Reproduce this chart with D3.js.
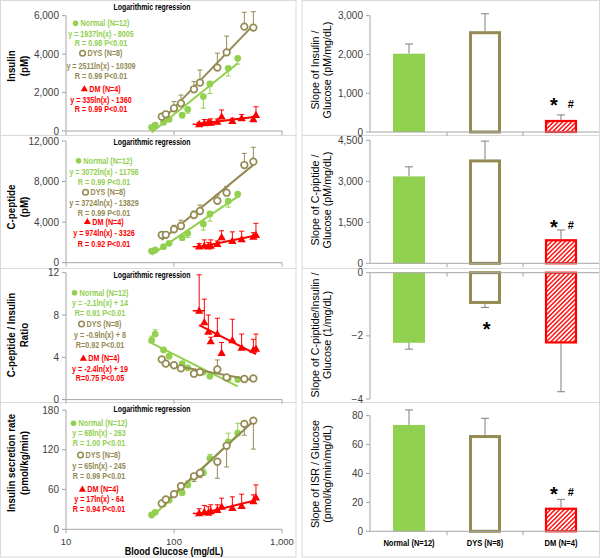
<!DOCTYPE html>
<html><head><meta charset="utf-8">
<script src="https://cdn.jsdelivr.net/npm/d3@7"></script>
<style>body{margin:0;background:#fff}</style>
</head><body><svg id="c" width="600" height="558"></svg>
<script>
// ---------- DATA ----------
const glucoseNormal = [62, 67, 80, 90, 119, 134, 187, 215, 318, 389];
const glucoseDYS    = [77, 84, 100, 116, 153, 174, 252, 307, 448, 543];
const glucoseDM     = [171, 191, 208, 219, 252, 276, 347, 423, 543, 574];
const glucoseDMErr  = [22, 0, 0, 0, 0, 0, 0, 0, 0, 0];

const insulinNormal    = [190, 310, 450, 610, 830, 1130, 1790, 2450, 3260, 3780];
const insulinNormalErr = [40, 50, 80, 100, 150, 200, 600, 500, 400, 300];
const insulinDYS       = [745, 870, 1180, 1440, 2170, 2515, 3300, 4090, 5430, 5380];
const insulinDYSErr    = [100, 150, 350, 430, 400, 660, 750, 850, 750, 830];
const insulinDM        = [350, 400, 430, 430, 470, 745, 520, 660, 610, 830];
const insulinDMErr     = [100, 200, 150, 200, 150, 350, 150, 200, 150, 430];

const cpepNormal    = [1150, 1250, 1580, 1910, 2470, 2900, 3820, 4800, 6080, 6770];
const cpepNormalErr = [60, 80, 100, 150, 250, 400, 600, 700, 600, 300];
const cpepDYS       = [2730, 2750, 3290, 3620, 4700, 5100, 6110, 6900, 9630, 9960];
const cpepDYSErr    = [200, 300, 400, 570, 400, 590, 560, 600, 1150, 1420];
const cpepDM        = [1580, 1650, 1600, 1650, 1840, 2500, 2140, 2310, 2560, 2730];
const cpepDMErr     = [300, 600, 400, 600, 300, 650, 900, 800, 400, 1150];

const ratioNormal    = [5.6, 6.2, 4.7, 4.1, 3.4, 3.0, 2.6, 2.2, 2.0, 1.9];
const ratioNormalErr = [0.4, 0.4, 0.2, 0.2, 0.2, 0.2, 0.2, 0.2, 0.2, 0.2];
const ratioDYS       = [3.8, 3.4, 3.25, 2.95, 2.45, 2.6, 2.85, 2.1, 1.95, 2.0];
const ratioDYSErr    = [0.2, 0.2, 0.2, 0.2, 0.2, 0.2, 0.9, 0.2, 0.2, 0.2];
const ratioDM        = [8.4, 7.3, 6.4, 5.5, 6.2, 4.4, 5.6, 4.9, 4.7, 4.8];
const ratioDMErr     = [3.4, 2.2, 1.6, 0.4, 1.5, 1.0, 2.0, 1.3, 1.0, 1.4];

const isrNormal    = [21.6, 25.6, 38, 44, 55, 67, 85, 107, 132, 145];
const isrNormalErr = [2, 2, 3, 4, 5, 6, 6, 6, 13, 15];
const isrDYS       = [39, 45, 53, 65, 80, 85, 102, 126, 159, 164];
const isrDYSErr    = [3, 3, 4, 5, 8, 7, 25, 32, 17, 43];
const isrDM        = [24, 26, 25, 27, 29, 34, 32, 35, 42, 48];
const isrDMErr     = [7, 10, 9, 10, 8, 13, 17, 18, 10, 19];

const xTicks = [10, 100, 1000];
const xTickLabels = ["10", "100", "1,000"];

const categories = ["Normal (N=12)", "DYS (N=8)", "DM (N=4)"];
const slopeInsulin    = [2020, 2600, 310];
const slopeInsulinErr = [250, 450, 130];
const slopeCpep       = [3180, 3800, 880];
const slopeCpepErr    = [350, 670, 340];
const slopeRatio      = [-2.22, -0.99, -2.24];
const slopeRatioErr   = [0.2, 0.11, 1.53];
const slopeISR        = [73.6, 66.6, 16.3];
const slopeISRErr     = [10.4, 11.6, 5.8];

// ---------- STYLE / LAYOUT ----------
const COL = {N: "#92d050", D: "#948a54", M: "#ff0000"};
const FONT = '"Liberation Sans", Arial, sans-serif';
const AXIS = "#a6a6a6";
const TICKTXT = "#404040";
const svg = d3.select("#c");

function label(g, x, y, s, o = {}) {
  return g.append("text")
    .attr("dy", "0.35em")
    .attr("font-family", FONT)
    .attr("font-size", o.size || 10)
    .attr("font-weight", o.bold ? "bold" : "normal")
    .attr("fill", o.fill || "#000")
    .attr("text-anchor", o.anchor || "middle")
    .attr("transform", `translate(${x},${y}) rotate(${o.rot || 0}) scale(${o.sx || 1},1)`)
    .text(s);
}

// hatch pattern
const defs = svg.append("defs");
const pat = defs.append("pattern").attr("id", "hatch").attr("patternUnits", "userSpaceOnUse")
  .attr("width", 3.2).attr("height", 3.2).attr("patternTransform", "rotate(45)");
pat.append("rect").attr("width", 3.2).attr("height", 3.2).attr("fill", "#fff");
pat.append("line").attr("x1", 0.8).attr("y1", 0).attr("x2", 0.8).attr("y2", 3.2)
  .attr("stroke", COL.M).attr("stroke-width", 1.4);

// frames
const rows = [1, 135, 268, 402, 557];
[[0.5, 296], [302, 599.5]].forEach(([x0, x1]) => {
  svg.append("rect").attr("x", x0).attr("y", 0.5).attr("width", x1 - x0).attr("height", 556.5)
    .attr("fill", "none").attr("stroke", "#d9d9d9");
  rows.slice(1, 4).forEach(r => svg.append("line").attr("x1", x0).attr("x2", x1)
    .attr("y1", r + 0.5).attr("y2", r + 0.5).attr("stroke", "#d9d9d9"));
});

// ---------- LEFT PANELS ----------
const x = d3.scaleLog().domain([10, 1000]).range([66, 282]);

const leftPanels = [
  {range: [131, 15.7], dom: [0, 6000], ticks: [0, 2000, 4000, 6000], fmt: d3.format(","),
   titleY: 7, ttl: ["Insulin", "(pM)"], ttlY: 66,
   N: [insulinNormal, insulinNormalErr, -1], D: [insulinDYS, insulinDYSErr, 1], M: [insulinDM, insulinDMErr, 1],
   cx: 101, ly: [23.3, 33.7, 43.3, 53.3, 65.7, 75.7, 89, 99.7, 108.7],
   text: ["Normal (N=12)", "y = 1937ln(x) - 8005", "R = 0.98  P<0.01",
          "DYS (N=8)", "y = 2511ln(x) - 10309", "R = 0.99  P<0.01",
          "DM (N=4)", "y = 335ln(x) - 1360", "R = 0.99  P<0.01"]},
  {range: [262.7, 141], dom: [0, 12000], ticks: [0, 4000, 8000, 12000], fmt: d3.format(","),
   titleY: 142, ttl: ["C-peptide", "(pM)"], ttlY: 207,
   N: [cpepNormal, cpepNormalErr, -1], D: [cpepDYS, cpepDYSErr, 1], M: [cpepDM, cpepDMErr, 1],
   cx: 104, ly: [160.7, 171.7, 181.7, 192.3, 203.3, 213.3, 221.7, 233.3, 243.7],
   text: ["Normal (N=12)", "y = 3072ln(x) - 11756", "R = 0.99 P<0.01",
          "DYS (N=8)", "y = 3724ln(x) - 13829", "R = 0.99  P<0.01",
          "DM (N=4)", "y = 974ln(x) - 3326", "R = 0.92  P<0.01"]},
  {range: [399.6, 272.7], dom: [0, 12], ticks: [0, 4, 8, 12], fmt: d3.format("d"),
   titleY: 274.5, ttl: ["C-peptide / Insulin", "Ratio"], ttlY: 335,
   N: [ratioNormal, ratioNormalErr, 1], D: [ratioDYS, ratioDYSErr, 1], M: [ratioDM, ratioDMErr, 1],
   cx: 100, ly: [292.7, 303.3, 312.7, 324, 335, 345, 358.3, 369, 378.3],
   text: ["Normal (N=12)", "y = -2.1ln(x) + 14", "R= 0.91   P<0.01",
          "DYS (N=8)", "y = -0.9ln(x) + 8", "R=0.92   P<0.01",
          "DM (N=4)", "y = -2.4ln(x) + 19", "R=0.75   P<0.05"]},
  {range: [529.3, 410], dom: [0, 180], ticks: [0, 60, 120, 180], fmt: d3.format("d"),
   titleY: 409.3, ttl: ["Insulin secretion rate", "(pmol/kg/min)"], ttlY: 463,
   N: [isrNormal, isrNormalErr, 1], D: [isrDYS, isrDYSErr, -1], M: [isrDM, isrDMErr, 1],
   cx: 99, ly: [423.3, 433.3, 443.3, 455, 465.7, 476, 489.3, 499.3, 508.7],
   text: ["Normal (N=12)", "y = 68ln(x) - 263", "R = 1.00  P<0.01",
          "DYS (N=8)", "y = 65ln(x) - 245", "R = 0.99  P<0.01",
          "DM (N=4)", "y = 17ln(x) - 64", "R = 0.94  P<0.01"], last: true}
];

function lsq(gx, vy) {
  const lx = gx.map(Math.log);
  const mx = d3.mean(lx), my = d3.mean(vy);
  let sxy = 0, sxx = 0;
  lx.forEach((l, i) => { sxy += (l - mx) * (vy[i] - my); sxx += (l - mx) ** 2; });
  const a = sxy / sxx;
  return {a, b: my - a * mx};
}

const tri = d3.symbol().type(d3.symbolTriangle).size(30);
const LSX = 0.8, LSIZE = 9;

leftPanels.forEach(p => {
  const g = svg.append("g");
  const y = d3.scaleLinear().domain(p.dom).range(p.range);
  // axes
  g.append("line").attr("x1", 66).attr("x2", 66).attr("y1", p.range[0]).attr("y2", p.range[1]).attr("stroke", AXIS);
  g.append("line").attr("x1", 66).attr("x2", 282).attr("y1", y(0)).attr("y2", y(0)).attr("stroke", AXIS);
  p.ticks.forEach(t => {
    g.append("line").attr("x1", 62).attr("x2", 66).attr("y1", y(t)).attr("y2", y(t)).attr("stroke", AXIS);
    label(g, 59, y(t), p.fmt(t), {anchor: "end", size: 10, fill: TICKTXT});
  });
  xTicks.forEach((t, i) => {
    g.append("line").attr("x1", x(t)).attr("x2", x(t)).attr("y1", y(0)).attr("y2", y(0) + 4).attr("stroke", AXIS);
    if (p.last) label(g, x(t), 541.7, xTickLabels[i], {size: 9.5, fill: TICKTXT});
  });
  label(g, 152, p.titleY, "Logarithmic regression", {bold: true, size: 9, sx: 0.77});
  label(g, 11, p.ttlY, p.ttl[0], {bold: true, size: 11.5, rot: -90, sx: 0.85});
  label(g, 24, p.ttlY, p.ttl[1], {bold: true, size: 11.5, rot: -90, sx: 0.85});

  const series = [["N", glucoseNormal], ["D", glucoseDYS], ["M", glucoseDM]];
  series.forEach(([k, gx]) => {
    const [vals, errs, dir] = p[k];
    const c = COL[k];
    // error bars
    vals.forEach((v, i) => {
      if (!errs[i]) return;
      const y0 = y(v), y1 = y(v + dir * errs[i]);
      g.append("line").attr("x1", x(gx[i])).attr("x2", x(gx[i])).attr("y1", y0).attr("y2", y1).attr("stroke", c).attr("stroke-width", 1);
      g.append("line").attr("x1", x(gx[i]) - 2.5).attr("x2", x(gx[i]) + 2.5).attr("y1", y1).attr("y2", y1).attr("stroke", c).attr("stroke-width", 1);
    });
    if (k === "M") {
      vals.forEach((v, i) => {
        if (!glucoseDMErr[i]) return;
        const xa = x(gx[i] - glucoseDMErr[i]), xb = x(gx[i] + glucoseDMErr[i]);
        g.append("line").attr("x1", xa).attr("x2", xb).attr("y1", y(v)).attr("y2", y(v)).attr("stroke", c).attr("stroke-width", 1.5);
      });
    }
    // regression line
    const f = lsq(gx, vals);
    const g0 = d3.min(gx), g1 = d3.max(gx);
    g.append("line").attr("x1", x(g0)).attr("x2", x(g1))
      .attr("y1", y(f.a * Math.log(g0) + f.b)).attr("y2", y(f.a * Math.log(g1) + f.b))
      .attr("stroke", c).attr("stroke-width", 2);
    // markers
    vals.forEach((v, i) => {
      if (k === "N") g.append("circle").attr("cx", x(gx[i])).attr("cy", y(v)).attr("r", 3.4).attr("fill", c);
      else if (k === "D") g.append("circle").attr("cx", x(gx[i])).attr("cy", y(v)).attr("r", 3.3).attr("fill", "#fff").attr("stroke", c).attr("stroke-width", 1.7);
      else g.append("path").attr("d", tri).attr("transform", `translate(${x(gx[i])},${y(v) + 0.5})`).attr("fill", c);
    });
  });

  // legend
  const keys = ["N", "N", "N", "D", "D", "D", "M", "M", "M"];
  p.text.forEach((s, i) => {
    const k = keys[i];
    const t = label(g, p.cx, p.ly[i], s, {bold: true, size: LSIZE, sx: LSX, fill: COL[k]});
    if (i % 3 === 0) {
      const w = t.node().getComputedTextLength() * LSX;
      t.attr("transform", `translate(${p.cx + 4},${p.ly[i]}) scale(${LSX},1)`);
      const sx = p.cx + 4 - w / 2 - 5;
      if (k === "N") g.append("circle").attr("cx", sx).attr("cy", p.ly[i]).attr("r", 2.8).attr("fill", COL.N);
      else if (k === "D") g.append("circle").attr("cx", sx).attr("cy", p.ly[i]).attr("r", 2.8).attr("fill", "#fff").attr("stroke", COL.D).attr("stroke-width", 1.5);
      else g.append("path").attr("d", d3.symbol().type(d3.symbolTriangle).size(22)).attr("transform", `translate(${sx},${p.ly[i] + 0.3})`).attr("fill", COL.M);
    }
  });
});
label(svg, 174, 551, "Blood Glucose (mg/dL)", {bold: true, size: 11.5, sx: 0.78});

// ---------- RIGHT PANELS ----------
const xb = d3.scaleBand().domain(categories).range([371, 599]);
const barW = 32;
const rightPanels = [
  {vals: slopeInsulin, errs: slopeInsulinErr, dom: [0, 3000], range: [132, 15.7], ticks: [0, 1000, 2000, 3000], fmt: d3.format(","),
   ttl: ["Slope of Insulin /", "Glucose (pM/mg/dL)"], ttlY: 70, marks: [["*", 554, 103], ["#", 570.7, 103]]},
  {vals: slopeCpep, errs: slopeCpepErr, dom: [0, 4500], range: [263.3, 140.3], ticks: [0, 1500, 3000, 4500], fmt: d3.format(","),
   ttl: ["Slope of C-piptide /", "Glucose (pM/mg/dL)"], ttlY: 200, marks: [["*", 554, 225], ["#", 570.7, 224]]},
  {vals: slopeRatio, errs: slopeRatioErr, dom: [-4, 0], range: [399, 272.7], ticks: [-4, -2, 0], fmt: d3.format("d"),
   ttl: ["Slope of C-piptide/Insulin /", "Glucose (1/mg/dL)"], ttlY: 335, marks: [["*", 486.7, 327]]},
  {vals: slopeISR, errs: slopeISRErr, dom: [0, 80], range: [531.3, 415.7], ticks: [0, 20, 40, 60, 80], fmt: d3.format("d"),
   ttl: ["Slope of ISR  / Glucose", "(pmol/kg/min/mg/dL)"], ttlY: 474, marks: [["*", 554, 492], ["#", 570.7, 491]], last: true}
];

rightPanels.forEach(p => {
  const g = svg.append("g");
  const y = d3.scaleLinear().domain(p.dom).range(p.range);
  g.append("line").attr("x1", 370).attr("x2", 370).attr("y1", p.range[0]).attr("y2", p.range[1]).attr("stroke", AXIS);
  p.ticks.forEach(t => {
    g.append("line").attr("x1", 366).attr("x2", 370).attr("y1", y(t)).attr("y2", y(t)).attr("stroke", AXIS);
    label(g, 363, y(t), p.fmt(t), {anchor: "end", size: 10, fill: TICKTXT});
  });
  label(g, 315, p.ttlY, p.ttl[0], {size: 10.7, rot: -90});
  label(g, 327, p.ttlY, p.ttl[1], {size: 10.7, rot: -90});

  categories.forEach((c, i) => {
    const cx = xb(c) + xb.bandwidth() / 2;
    const v = p.vals[i];
    const ya = y(Math.max(0, v)), yb2 = y(Math.min(0, v));
    // error bar
    const ye = y(v + Math.sign(v) * p.errs[i]);
    g.append("line").attr("x1", cx).attr("x2", cx).attr("y1", y(v)).attr("y2", ye).attr("stroke", "#7f7f7f");
    g.append("line").attr("x1", cx - 4).attr("x2", cx + 4).attr("y1", ye).attr("y2", ye).attr("stroke", "#7f7f7f");
    if (i === 0) g.append("rect").attr("x", cx - barW / 2).attr("y", ya).attr("width", barW).attr("height", yb2 - ya).attr("fill", COL.N);
    else if (i === 1) g.append("rect").attr("x", cx - barW / 2 + 1.5).attr("y", ya + (v > 0 ? 1.5 : 0)).attr("width", barW - 3).attr("height", yb2 - ya - 1.5).attr("fill", "#fff").attr("stroke", COL.D).attr("stroke-width", 3);
    else g.append("rect").attr("x", cx - barW / 2 + 1).attr("y", ya + (v > 0 ? 1 : 0)).attr("width", barW - 2).attr("height", yb2 - ya - 1).attr("fill", "url(#hatch)").attr("stroke", COL.M).attr("stroke-width", 2.2);
    if (p.last) label(g, cx, 543.3, c, {bold: true, size: 8.2, sx: 0.92, fill: "#000"});
  });
  // x axis
  g.append("line").attr("x1", 370).attr("x2", 599).attr("y1", y(0)).attr("y2", y(0)).attr("stroke", AXIS);
  xb.domain().forEach((c, i) => {
    if (i === 0) return;
    g.append("line").attr("x1", xb(c)).attr("x2", xb(c)).attr("y1", y(0)).attr("y2", y(0) + 4).attr("stroke", AXIS);
  });
  p.marks.forEach(([s, mx, my]) => {
    if (s === "*") label(g, mx, my + 2, s, {bold: true, size: 20});
    else label(g, mx, my + 1.5, s, {bold: true, size: 11});
  });
});
</script></body></html>
